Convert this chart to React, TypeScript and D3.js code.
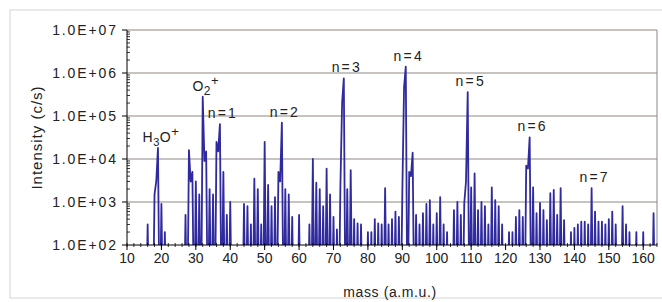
import React from 'react';
import * as d3 from 'd3';

// one reading per integer mass, starting at 10 a.m.u.; 0 = below the 1.0E+02 floor
const massStart = 10;
const intensity = [
  0, 0, 0, 0, 0, 0, 300, 0, 1500, 18000, // 10-19
  900, 200, 0, 0, 0, 0, 0, 500, 16000, 5000, // 20-29
  3000, 1500, 280000, 15000, 2000, 1500, 25000, 65000, 5000, 500, // 30-39
  1000, 0, 0, 0, 900, 800, 300, 3500, 2000, 300, // 40-49
  25000, 2500, 800, 1300, 5000, 70000, 2000, 1500, 450, 0, // 50-59
  500, 0, 0, 300, 10000, 2800, 2000, 800, 6000, 1500, // 60-69
  450, 230, 2200, 750000, 2000, 5500, 400, 320, 300, 0, // 70-79
  200, 200, 400, 320, 300, 2100, 300, 400, 600, 450, // 80-89
  1600, 1400000, 5000, 14000, 500, 300, 550, 900, 1100, 300, // 90-99
  550, 1300, 300, 200, 0, 650, 1000, 500, 950, 360000, // 100-109
  2200, 4600, 650, 1000, 800, 300, 2200, 1100, 800, 300, // 110-119
  0, 200, 200, 450, 650, 450, 7000, 32000, 2200, 550, // 120-129
  950, 650, 380, 1600, 1900, 500, 2100, 380, 0, 200, // 130-139
  250, 300, 350, 350, 300, 2100, 600, 350, 350, 300, // 140-149
  400, 600, 300, 0, 800, 300, 200, 0, 200, 0, // 150-159
  200, 0, 0, 550, 0, // 160-164
];

// where the trace stays up between mass m and m+1 (elsewhere it drops to the floor)
const shoulderMass = [18, 28, 32, 36, 54, 72, 90, 92, 108, 126];
const shoulderValue = [3000, 3000, 9000, 15000, 3000, 200000, 450000, 4000, 3000, 6000];

const yTicks = [1e2, 1e3, 1e4, 1e5, 1e6, 1e7];
const xTicks = [10, 20, 30, 40, 50, 60, 70, 80, 90, 100, 110, 120, 130, 140, 150, 160];
const peakMasses = [19, 32, 37, 55, 73, 91, 109, 127, 145];
const peakNames = ['H3O+', 'O2+', 'n=1', 'n=2', 'n=3', 'n=4', 'n=5', 'n=6', 'n=7'];

const W = 662;
const H = 302;
const m = { left: 127, right: 5, top: 30, bottom: 57 };

const font = '"Liberation Sans", Arial, Helvetica, sans-serif';
const lineColor = '#2f2a9e';
const gridColor = '#8f8780';

const fmt = (v: number) => {
  const e = Math.round(Math.log10(v));
  return `1.0E+${e < 10 ? '0' + e : e}`;
};

function Label({ name, x, y }: { name: string; x: number; y: number }) {
  const common = { x, y, textAnchor: 'middle' as const, fontSize: 14, fill: '#222', fontFamily: font };
  if (name === 'H3O+') {
    return (
      <text {...common} letterSpacing={0.5}>
        H<tspan dy={4} fontSize={11}>3</tspan>
        <tspan dy={-4}>O</tspan>
        <tspan dy={-6} fontSize={13}>+</tspan>
      </text>
    );
  }
  if (name === 'O2+') {
    return (
      <text {...common} letterSpacing={0.5}>
        O<tspan dy={4} fontSize={12}>2</tspan>
        <tspan dy={-10} fontSize={13}>+</tspan>
      </text>
    );
  }
  return <text {...common} letterSpacing={2.2}>{name}</text>;
}

export default function App() {
  const data: { mass: number; value: number }[] = [];
  intensity.forEach((v, i) => {
    const mass = massStart + i;
    data.push({ mass, value: v });
    if (i < intensity.length - 1) {
      const k = shoulderMass.indexOf(mass);
      data.push({ mass: mass + 0.5, value: k >= 0 ? shoulderValue[k] : 0 });
    }
  });

  const x = d3.scaleLinear().domain([10, 164]).range([m.left, W - m.right]);
  const y = d3.scaleLog().domain([1e2, 1e7]).range([H - m.bottom, m.top]);

  const line = d3
    .line<{ mass: number; value: number }>()
    .x(d => x(d.mass))
    .y(d => y(Math.max(d.value, 1)));

  const x0 = m.left;
  const x1 = W - m.right;
  const y0 = H - m.bottom;
  const y1 = m.top;

  // log minor ticks 2..9 per decade
  const minorY: number[] = [];
  for (let e = 2; e < 7; e++) for (let k = 2; k <= 9; k++) minorY.push(k * Math.pow(10, e));
  const minorX = d3.range(10, 165, 2);

  return (
    <svg width={W} height={H} style={{ position: 'absolute', left: 0, top: 0, background: '#fff' }}>
      <defs>
        <clipPath id="plot">
          <rect x={x0} y={y1} width={x1 - x0} height={y0 - y1} />
        </clipPath>
      </defs>
      <rect x={10} y={10} width={660} height={288} fill="#fff" stroke="#d4d4d4" strokeWidth={1} />

      {/* grid */}
      {yTicks.slice(1).map(t => (
        <line key={t} x1={x0} x2={x1} y1={y(t)} y2={y(t)} stroke={gridColor} strokeWidth={1} />
      ))}
      <line x1={x1} x2={x1} y1={y1} y2={y0} stroke={gridColor} strokeWidth={1} />

      {/* spectrum */}
      <path
        d={line(data) || ''}
        fill="none"
        stroke={lineColor}
        strokeWidth={1.8}
        strokeLinejoin="round"
        clipPath="url(#plot)"
      />

      {/* y axis */}
      <line x1={x0} x2={x0} y1={y1} y2={y0} stroke="#000" strokeWidth={1} />
      {minorY.map(t => (
        <line key={t} x1={x0} x2={x0 + 3} y1={y(t)} y2={y(t)} stroke="#000" strokeWidth={0.8} />
      ))}
      {yTicks.map(t => (
        <g key={t}>
          <line x1={x0 - 5} x2={x0} y1={y(t)} y2={y(t)} stroke="#000" strokeWidth={1} />
          <text x={x0 - 9} y={y(t) + 5} textAnchor="end" fontSize={14} fontFamily={font} fill="#222" letterSpacing={1.9}>
            {fmt(t)}
          </text>
        </g>
      ))}

      {/* x axis */}
      <line x1={x0} x2={x1} y1={y0} y2={y0} stroke="#000" strokeWidth={1} />
      {minorX.map(t => (
        <line key={t} x1={x(t)} x2={x(t)} y1={y0 - 2} y2={y0 + 2} stroke="#000" strokeWidth={0.8} />
      ))}
      {xTicks.map(t => (
        <g key={t}>
          <line x1={x(t)} x2={x(t)} y1={y0} y2={y0 + 5} stroke="#000" strokeWidth={1} />
          <text x={x(t)} y={y0 + 18} textAnchor="middle" fontSize={14} fontFamily={font} fill="#222">
            {t}
          </text>
        </g>
      ))}

      {/* titles */}
      <text x={390} y={297} textAnchor="middle" fontSize={14} fontFamily={font} fill="#222" letterSpacing={0.6}>
        mass (a.m.u.)
      </text>
      <text
        transform={`translate(42,${(y0 + y1) / 2}) rotate(-90)`}
        textAnchor="middle"
        fontSize={15}
        fontFamily={font}
        fill="#222"
        letterSpacing={1}
      >
        Intensity (c/s)
      </text>

      {/* peak labels */}
      {peakMasses.map((pm, i) => (
        <Label key={pm} name={peakNames[i]} x={x(pm) + 3} y={y(intensity[pm - massStart]) - 6} />
      ))}
    </svg>
  );
}
